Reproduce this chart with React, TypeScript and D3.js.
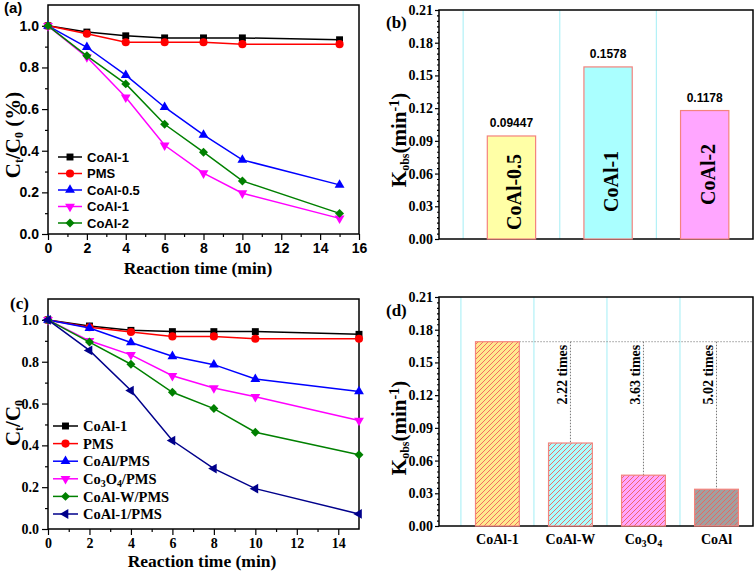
import React, { useEffect, useRef } from "react";
import * as d3 from "d3";

// reaction time (min)
const times = [0, 2, 4, 6, 8, 10, 15];

// panel (a) - Ct/C0 for different Co/Al ratios
const aNames = ["CoAl-1", "PMS", "CoAl-0.5", "CoAl-1", "CoAl-2"];
const aCoAl1 = [1.0, 0.97, 0.952, 0.942, 0.942, 0.942, 0.933];
const aPMS = [1.0, 0.962, 0.921, 0.921, 0.921, 0.912, 0.912];
const aCoAl05 = [1.0, 0.897, 0.763, 0.609, 0.476, 0.356, 0.236];
const aCoAl1Pms = [1.0, 0.85, 0.657, 0.426, 0.292, 0.196, 0.075];
const aCoAl2 = [1.0, 0.856, 0.721, 0.527, 0.393, 0.255, 0.099];
const aSeries = [aCoAl1, aPMS, aCoAl05, aCoAl1Pms, aCoAl2];

// panel (b) - rate constants
const bCats = ["CoAl-0.5", "CoAl-1", "CoAl-2"];
const bValues = [0.09447, 0.1578, 0.1178];
const bValueLabels = ["0.09447", "0.1578", "0.1178"];

// panel (c) - Ct/C0 for different catalysts
const cNames = ["CoAl-1", "PMS", "CoAl/PMS", "Co3O4/PMS", "CoAl-W/PMS", "CoAl-1/PMS"];
const cCoAl1 = [1.0, 0.971, 0.95, 0.944, 0.944, 0.944, 0.931];
const cPMS = [1.0, 0.965, 0.942, 0.921, 0.921, 0.91, 0.91];
const cCoAlPms = [1.0, 0.961, 0.892, 0.826, 0.786, 0.717, 0.658];
const cCo3O4Pms = [1.0, 0.9, 0.833, 0.733, 0.674, 0.632, 0.519];
const cCoAlWPms = [1.0, 0.894, 0.788, 0.654, 0.576, 0.463, 0.355];
const cCoAl1Pms = [1.0, 0.854, 0.662, 0.423, 0.289, 0.193, 0.072];
const cSeries = [cCoAl1, cPMS, cCoAlPms, cCo3O4Pms, cCoAlWPms, cCoAl1Pms];

// panel (d) - rate constants compared with CoAl-1
const dCats = ["CoAl-1", "CoAl-W", "Co3O4", "CoAl"];
const dValues = [0.169, 0.0761, 0.0466, 0.0337];
const dRatios = ["", "2.22 times", "3.63 times", "5.02 times"];

const SERIF = "'Liberation Serif', 'Times New Roman', serif";
const SANS = "'Liberation Sans', Arial, sans-serif";

const aColors = ["#000000", "#ff0000", "#0000ff", "#ff00ff", "#008000"];
const aShapes = ["square", "circle", "up", "down", "diamond"];
const cColors = ["#000000", "#ff0000", "#0000ff", "#ff00ff", "#008000", "#00008b"];
const cShapes = ["square", "circle", "up", "down", "diamond", "left"];
const bFills = ["#ffffa6", "#aaffff", "#ffa6ff"];
const dFills = ["#ffe98f", "#aaffff", "#ffa6ff", "#a0a0a0"];

const markerD = (shape: string) => {
  if (shape === "square") return d3.symbol(d3.symbolSquare, 48)()!;
  if (shape === "diamond") return d3.symbol(d3.symbolSquare, 40)()!;
  if (shape === "circle") return d3.symbol(d3.symbolCircle, 52)()!;
  return d3.symbol(d3.symbolTriangle, 42)()!;
};
const markerRot = (shape: string) =>
  shape === "down" ? 180 : shape === "left" ? -90 : shape === "diamond" ? 45 : 0;

// text with digits after a letter drawn as subscripts (Co3O4)
const richText = (t: any, s: string, size: number) => {
  const parts = s.split(/(?<=[A-Za-z])(\d)/);
  let low = false;
  parts.forEach((p, i) => {
    if (!p) return;
    const sub = i % 2 === 1;
    const ts = t.append("tspan").text(p);
    if (sub) {
      ts.attr("font-size", size * 0.68).attr("dy", low ? 0 : size * 0.22);
      low = true;
    } else {
      ts.attr("font-size", size).attr("dy", low ? -size * 0.22 : 0);
      low = false;
    }
  });
};

const App: React.FC = () => {
  const svgRef = useRef<SVGSVGElement>(null);

  useEffect(() => {
    if (!svgRef.current) return;
    const svg = d3.select(svgRef.current);
    svg.selectAll("*").remove();
    const defs = svg.append("defs");

    dFills.forEach((c, i) => {
      const p = defs
        .append("pattern")
        .attr("id", `hatch${i}`)
        .attr("patternUnits", "userSpaceOnUse")
        .attr("width", 5)
        .attr("height", 5);
      p.append("rect").attr("width", 5).attr("height", 5).attr("fill", c);
      p.append("path")
        .attr("d", "M-1,1L1,-1M0,5L5,0M4,6L6,4")
        .attr("stroke", "#f0605a")
        .attr("stroke-width", 0.9);
    });

    const styleTicks = (g: any, font: string, size: number) => {
      g.select(".domain").remove();
      g.attr("font-family", font).attr("font-size", size).attr("font-weight", "bold");
      g.selectAll("line").attr("stroke", "#000").attr("stroke-width", 1.2);
      g.selectAll("text").attr("fill", "#000");
    };

    const frame = (x0: number, x1: number, y0: number, y1: number) =>
      svg
        .append("rect")
        .attr("x", x0)
        .attr("y", y0)
        .attr("width", x1 - x0)
        .attr("height", y1 - y0)
        .attr("fill", "none")
        .attr("stroke", "#000")
        .attr("stroke-width", 1.5);

    // ---------- line panels (a) and (c) ----------
    const drawKinetics = (cfg: any) => {
      const { x, y, series, colors, shapes, names, font, tickFont, tickSize, xMax, leg } = cfg;
      const [x0, x1] = x.range();
      const [y1, y0] = y.range();

      const yMajor = d3.range(0, 1.01, 0.2);
      const yMinor = d3.range(0.1, 1.1, 0.2);
      const xMajor = d3.range(0, xMax + 0.1, 2);
      const xMinor = d3.range(1, xMax, 2);

      svg.append("g").attr("transform", `translate(${x0},0)`)
        .call(d3.axisLeft(y).tickValues(yMinor).tickSize(3).tickFormat(() => ""))
        .call((g: any) => styleTicks(g, tickFont, tickSize));
      svg.append("g").attr("transform", `translate(${x0},0)`)
        .call(d3.axisLeft(y).tickValues(yMajor).tickSize(6).tickPadding(3).tickFormat(d3.format(".1f")))
        .call((g: any) => styleTicks(g, tickFont, tickSize));
      svg.append("g").attr("transform", `translate(0,${y1})`)
        .call(d3.axisBottom(x).tickValues(xMinor).tickSize(3).tickFormat(() => ""))
        .call((g: any) => styleTicks(g, tickFont, tickSize));
      svg.append("g").attr("transform", `translate(0,${y1})`)
        .call(d3.axisBottom(x).tickValues(xMajor).tickSize(6).tickPadding(3).tickFormat(d3.format("d")))
        .call((g: any) => styleTicks(g, tickFont, tickSize));

      frame(x0, x1, y0, y1);

      const line = d3
        .line<number>()
        .x((_, i) => x(times[i]))
        .y((d) => y(d));

      series.forEach((vals: number[], s: number) => {
        const g = svg.append("g");
        g.append("path")
          .attr("d", line(vals))
          .attr("fill", "none")
          .attr("stroke", colors[s])
          .attr("stroke-width", 1.5);
        g.selectAll("path.m")
          .data(vals)
          .enter()
          .append("path")
          .attr("class", "m")
          .attr("d", markerD(shapes[s]))
          .attr("transform", (d: number, i: number) => `translate(${x(times[i])},${y(d)}) rotate(${markerRot(shapes[s])})`)
          .attr("fill", colors[s]);
      });

      // legend
      names.forEach((n: string, i: number) => {
        const ly = leg.y + i * leg.dy;
        svg.append("line")
          .attr("x1", leg.x).attr("x2", leg.x + leg.len)
          .attr("y1", ly).attr("y2", ly)
          .attr("stroke", colors[i]).attr("stroke-width", 1.5);
        svg.append("path")
          .attr("d", markerD(shapes[i]))
          .attr("transform", `translate(${leg.x + leg.len / 2},${ly}) rotate(${markerRot(shapes[i])})`)
          .attr("fill", colors[i]);
        const t = svg.append("text")
          .attr("x", leg.x + leg.len + 5)
          .attr("y", ly + leg.size * 0.36)
          .attr("font-family", font)
          .attr("font-weight", "bold")
          .attr("font-size", leg.size);
        richText(t, n, leg.size);
      });
    };

    const xA = d3.scaleLinear().domain([0, 16]).range([48, 359]);
    const yA = d3.scaleLinear().domain([0, 1.1]).range([234, 5]);
    drawKinetics({
      x: xA, y: yA, series: aSeries, colors: aColors, shapes: aShapes, names: aNames,
      font: SANS, tickFont: SANS, tickSize: 14, xMax: 16,
      leg: { x: 58, y: 157, dy: 16.5, len: 24, size: 13 },
    });

    const xC = d3.scaleLinear().domain([0, 15]).range([48, 359]);
    const yC = d3.scaleLinear().domain([0, 1.1]).range([529, 299]);
    drawKinetics({
      x: xC, y: yC, series: cSeries, colors: cColors, shapes: cShapes, names: cNames,
      font: SERIF, tickFont: SERIF, tickSize: 14, xMax: 14,
      leg: { x: 53, y: 426, dy: 17.6, len: 25, size: 14.5 },
    });

    // axis titles for (a), (c)
    const xTitle = (cx: number, by: number) =>
      svg.append("text").attr("x", cx).attr("y", by).attr("text-anchor", "middle")
        .attr("font-family", SERIF).attr("font-weight", "bold").attr("font-size", 17.5)
        .text("Reaction time (min)");
    xTitle(198, 274);
    xTitle(202, 567);

    const ctTitle = (cy: number, suffix: string) => {
      const t = svg.append("text")
        .attr("transform", `translate(20,${cy}) rotate(-90)`)
        .attr("text-anchor", "middle")
        .attr("font-family", SERIF).attr("font-weight", "bold").attr("font-size", 21);
      t.append("tspan").text("C");
      t.append("tspan").text("t").attr("font-size", 12).attr("dy", 2.5);
      t.append("tspan").text("/C").attr("dy", -2.5);
      t.append("tspan").text("0").attr("font-size", 12).attr("dy", 2.5);
      if (suffix) t.append("tspan").text(suffix).attr("dy", -2.5);
    };
    ctTitle(135, " (%)");
    ctTitle(423, "");

    // ---------- bar panels (b) and (d) ----------
    const kTitle = (cy: number) => {
      const t = svg.append("text")
        .attr("transform", `translate(406,${cy}) rotate(-90)`)
        .attr("text-anchor", "middle")
        .attr("font-family", SERIF).attr("font-weight", "bold").attr("font-size", 21);
      t.append("tspan").text("K");
      t.append("tspan").text("obs").attr("font-size", 12).attr("dy", 3);
      t.append("tspan").text("(min").attr("dy", -3);
      t.append("tspan").text("-1").attr("font-size", 14).attr("dy", -7);
      t.append("tspan").text(")").attr("dy", 7);
    };

    const barAxes = (x: any, y: any, n: number) => {
      const [x0, x1] = x.range();
      const [y1, y0] = y.range();
      d3.range(0.5, n, 1).forEach((b) => {
        svg.append("line")
          .attr("x1", x(b)).attr("x2", x(b)).attr("y1", y0).attr("y2", y1)
          .attr("stroke", "#b2f1f7").attr("stroke-width", 1.2);
      });
      const major = d3.range(0, 0.2101, 0.03);
      const minor = d3.range(0, 0.2101, 0.005).filter((v) => Math.abs(v / 0.03 - Math.round(v / 0.03)) > 0.01);
      svg.append("g").attr("transform", `translate(${x0},0)`)
        .call(d3.axisLeft(y).tickValues(minor).tickSize(2).tickFormat(() => ""))
        .call((g: any) => styleTicks(g, SERIF, 14));
      svg.append("g").attr("transform", `translate(${x0},0)`)
        .call(d3.axisLeft(y).tickValues(major).tickSize(4).tickPadding(2).tickFormat(d3.format(".2f")))
        .call((g: any) => styleTicks(g, SERIF, 14));
      frame(x0, x1, y0, y1);
    };

    // (b)
    const xB = d3.scaleLinear().domain([0.25, 3.5]).range([439, 753]);
    const yB = d3.scaleLinear().domain([0, 0.21]).range([239, 10]);
    barAxes(xB, yB, 3);
    const bw = xB(1.25) - xB(1);
    const bNameLift = [9, 27, 34];
    bValues.forEach((v, i) => {
      const cx = xB(i + 1);
      svg.append("rect")
        .attr("x", cx - bw).attr("width", bw * 2)
        .attr("y", yB(v)).attr("height", yB(0) - yB(v))
        .attr("fill", bFills[i]).attr("stroke", "#f4837d").attr("stroke-width", 1.2);
      svg.append("text")
        .attr("x", cx).attr("y", yB(v) - 9).attr("text-anchor", "middle")
        .attr("font-family", SANS).attr("font-weight", "bold").attr("font-size", 12)
        .text(bValueLabels[i]);
      svg.append("text")
        .attr("transform", `translate(${cx + 10},${yB(0) - bNameLift[i]}) rotate(-90)`)
        .attr("font-family", SERIF).attr("font-weight", "bold").attr("font-size", 20)
        .text(bCats[i]);
    });
    kTitle(140);

    // (d)
    const xD = d3.scaleLinear().domain([0.2, 4.5]).range([439, 753]);
    const yD = d3.scaleLinear().domain([0, 0.21]).range([526, 297]);
    barAxes(xD, yD, 4);
    const dw = xD(1.3) - xD(1);
    const ref = dValues[0];
    svg.append("line")
      .attr("x1", xD(1) + dw).attr("x2", xD.range()[1])
      .attr("y1", yD(ref)).attr("y2", yD(ref))
      .attr("stroke", "#999").attr("stroke-width", 1).attr("stroke-dasharray", "1.5,1.5");
    dValues.forEach((v, i) => {
      const cx = xD(i + 1);
      if (i > 0) {
        svg.append("line")
          .attr("x1", cx).attr("x2", cx).attr("y1", yD(ref)).attr("y2", yD(v))
          .attr("stroke", "#777").attr("stroke-width", 1).attr("stroke-dasharray", "1.5,1.5");
        svg.append("text")
          .attr("transform", `translate(${cx - 3},${yD(ref) + 3}) rotate(-90)`)
          .attr("text-anchor", "end")
          .attr("font-family", SERIF).attr("font-weight", "bold").attr("font-size", 14)
          .text(dRatios[i]);
      }
      svg.append("rect")
        .attr("x", cx - dw).attr("width", dw * 2)
        .attr("y", yD(v)).attr("height", yD(0) - yD(v))
        .attr("fill", `url(#hatch${i})`).attr("stroke", "#f4837d").attr("stroke-width", 1.2);
      const t = svg.append("text")
        .attr("x", cx).attr("y", yD(0) + 18).attr("text-anchor", "middle")
        .attr("font-family", SERIF).attr("font-weight", "bold").attr("font-size", 14);
      richText(t, dCats[i], 14);
    });
    kTitle(428);

    // panel letters
    const letter = (s: string, x: number, y: number, font: string, size: number) =>
      svg.append("text").attr("x", x).attr("y", y)
        .attr("font-family", font).attr("font-weight", "bold").attr("font-size", size).text(s);
    letter("(a)", 4, 13, SANS, 15);
    letter("(b)", 386, 28, SERIF, 17);
    letter("(c)", 10, 309, SERIF, 17);
    letter("(d)", 386, 316, SERIF, 17);
  }, []);

  return (
    <svg
      ref={svgRef}
      width={756}
      height={573}
      style={{ position: "absolute", left: 0, top: 0, background: "#fff" }}
    />
  );
};

export default App;
